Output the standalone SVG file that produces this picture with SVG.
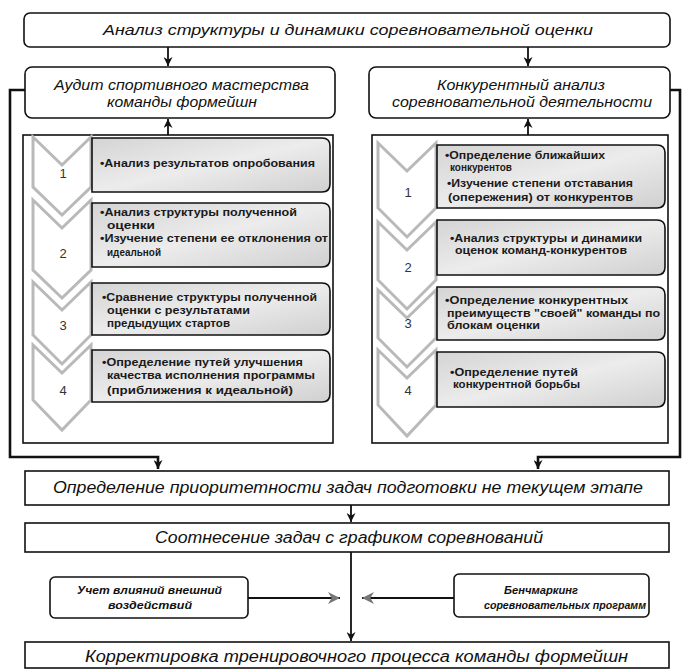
<svg xmlns="http://www.w3.org/2000/svg" width="682" height="669" viewBox="0 0 682 669">
<style>
.box{fill:#fff;stroke:#111;stroke-width:1.6}
.panel{fill:#fff;stroke:#111;stroke-width:1.6}
.step{fill:url(#sg);stroke:#111;stroke-width:1.6}
.chev{fill:#fff;stroke:#b9b9b9;stroke-width:3;stroke-linejoin:miter}
.t{font-family:"Liberation Sans",Arial,sans-serif;font-style:italic;fill:#111}
.s{font-family:"Liberation Sans",Arial,sans-serif;font-weight:bold;font-size:10px;fill:#1a1a1a}
.n{font-family:"Liberation Sans",Arial,sans-serif;font-size:13px;fill:#333;text-anchor:middle}
.si{font-family:"Liberation Sans",Arial,sans-serif;font-style:italic;font-weight:bold;font-size:10.5px;fill:#111}
.c{fill:none;stroke:#111;stroke-width:1.8}
.ct{fill:none;stroke:#111;stroke-width:2.6}
.cg{fill:none;stroke:#111;stroke-width:2}
</style>
<defs>
<linearGradient id="sg" x1="0" y1="0" x2="1" y2="1">
<stop offset="0" stop-color="#d4d4d4"/>
<stop offset="0.5" stop-color="#ececec"/>
<stop offset="1" stop-color="#d0d0d0"/>
</linearGradient>
<marker id="a" viewBox="0 0 10 10" refX="10" refY="5" markerWidth="9" markerHeight="9" markerUnits="userSpaceOnUse" orient="auto">
<path d="M0,0 L10,5 L0,10 L3,5 z" fill="#111"/>
</marker>
<marker id="ag" viewBox="0 0 10 10" refX="10" refY="5" markerWidth="12" markerHeight="12" markerUnits="userSpaceOnUse" orient="auto">
<path d="M0,0 L10,5 L0,10 L3,5 z" fill="#777"/>
</marker>
</defs>
<rect width="682" height="669" fill="#fff"/>

<g id="connectors">
<line class="c" x1="168" y1="47" x2="168" y2="66" marker-end="url(#a)"/>
<line class="c" x1="528" y1="47" x2="528" y2="66" marker-end="url(#a)"/>
<line class="c" x1="168" y1="135" x2="168" y2="119" marker-end="url(#a)"/>
<line class="c" x1="528" y1="135" x2="528" y2="119" marker-end="url(#a)"/>
<polyline class="ct" points="25,90 10,90 10,457 158,457 158,469" marker-end="url(#a)"/>
<polyline class="ct" points="670,90 680,90 680,457 538,457 538,469" marker-end="url(#a)"/>
<line class="c" x1="351" y1="505" x2="351" y2="522" marker-end="url(#a)"/>
<line class="c" x1="351" y1="552" x2="351" y2="641" marker-end="url(#a)"/>
<line class="cg" x1="248" y1="598" x2="340" y2="598" marker-end="url(#ag)"/>
<line class="cg" x1="454" y1="598" x2="362" y2="598" marker-end="url(#ag)"/>
</g>

<g id="n-top">
<rect class="box" x="24" y="13" width="646" height="34" rx="6"/>
<text class="t" x="103" y="35" font-size="15" textLength="490" lengthAdjust="spacingAndGlyphs">Анализ структуры и динамики соревновательной оценки</text>
</g>

<g id="n-audit">
<rect class="box" x="25" y="67" width="310" height="51" rx="7"/>
<text class="t" x="54" y="90" font-size="15" textLength="255" lengthAdjust="spacingAndGlyphs">Аудит спортивного мастерства</text>
<text class="t" x="107" y="107" font-size="15" textLength="150" lengthAdjust="spacingAndGlyphs">команды формейшн</text>
</g>

<g id="n-konk">
<rect class="box" x="369" y="67" width="301" height="51" rx="7"/>
<text class="t" x="437" y="90" font-size="15" textLength="168" lengthAdjust="spacingAndGlyphs">Конкурентный анализ</text>
<text class="t" x="392" y="107" font-size="15" textLength="260" lengthAdjust="spacingAndGlyphs">соревновательной деятельности</text>
</g>

<g id="panel-left">
<rect class="panel" x="23" y="135" width="310" height="308"/>
<polygon class="chev" points="33,345 62,373 91,345 91,400 62,430 33,400"/>
<polygon class="chev" points="33,282 62,310 91,282 91,335 62,364 33,335"/>
<polygon class="chev" points="33,200 62,228 91,200 91,270 62,298 33,270"/>
<polygon class="chev" points="33,137 62,165 91,137 91,187 62,215 33,187"/>
<text class="n" x="63" y="178">1</text>
<text class="n" x="63" y="258">2</text>
<text class="n" x="63" y="330">3</text>
<text class="n" x="63" y="395">4</text>
</g>

<g id="step-l1">
<path class="step" d="M92,138 H322 Q330,138 330,146 V184 Q330,192 322,192 H92 Z"/>
<text class="s" x="100" y="167" textLength="215" lengthAdjust="spacingAndGlyphs">•Анализ результатов опробования</text>
</g>
<g id="step-l2">
<path class="step" d="M92,203 H322 Q330,203 330,211 V259 Q330,267 322,267 H92 Z"/>
<text class="s" x="100" y="216" textLength="197" lengthAdjust="spacingAndGlyphs">•Анализ структуры полученной</text>
<text class="s" x="107" y="229" textLength="48" lengthAdjust="spacingAndGlyphs">оценки</text>
<text class="s" x="100" y="242" textLength="228" lengthAdjust="spacingAndGlyphs">•Изучение степени ее отклонения от</text>
<text class="s" x="107" y="256" textLength="54" lengthAdjust="spacingAndGlyphs">идеальной</text>
</g>
<g id="step-l3">
<path class="step" d="M92,283 H322 Q330,283 330,291 V327 Q330,335 322,335 H92 Z"/>
<text class="s" x="102" y="301" textLength="215" lengthAdjust="spacingAndGlyphs">•Сравнение структуры полученной</text>
<text class="s" x="107" y="314" textLength="143" lengthAdjust="spacingAndGlyphs">оценки с результатами</text>
<text class="s" x="107" y="327" textLength="123" lengthAdjust="spacingAndGlyphs">предыдущих стартов</text>
</g>
<g id="step-l4">
<path class="step" d="M92,350 H322 Q330,350 330,358 V394 Q330,402 322,402 H92 Z"/>
<text class="s" x="102" y="366" textLength="201" lengthAdjust="spacingAndGlyphs">•Определение путей улучшения</text>
<text class="s" x="107" y="379" textLength="208" lengthAdjust="spacingAndGlyphs">качества исполнения программы</text>
<text class="s" x="107" y="394" textLength="186" lengthAdjust="spacingAndGlyphs">(приближения к идеальной)</text>
</g>

<g id="panel-right">
<rect class="panel" x="372" y="135" width="296" height="308"/>
<polygon class="chev" points="378,350 407,378 436,350 436,405 407,436 378,405"/>
<polygon class="chev" points="378,290 407,318 436,290 436,338 407,367 378,338"/>
<polygon class="chev" points="378,222 407,250 436,222 436,280 407,309 378,280"/>
<polygon class="chev" points="378,143 407,171 436,143 436,208 407,237 378,208"/>
<text class="n" x="408" y="197">1</text>
<text class="n" x="408" y="272">2</text>
<text class="n" x="408" y="328">3</text>
<text class="n" x="408" y="395">4</text>
</g>

<g id="step-r1">
<path class="step" d="M437,145 H657 Q665,145 665,153 V200 Q665,208 657,208 H437 Z"/>
<text class="s" x="445" y="159" textLength="160" lengthAdjust="spacingAndGlyphs">•Определение ближайших</text>
<text class="s" x="450" y="171" textLength="62" lengthAdjust="spacingAndGlyphs">конкурентов</text>
<text class="s" x="447" y="187" fill="#555" textLength="186" lengthAdjust="spacingAndGlyphs">•Изучение степени отставания</text>
<text class="s" x="448" y="201" fill="#555" textLength="185" lengthAdjust="spacingAndGlyphs">(опережения) от конкурентов</text>
</g>
<g id="step-r2">
<path class="step" d="M437,220 H657 Q665,220 665,228 V267 Q665,275 657,275 H437 Z"/>
<text class="s" x="450" y="242" textLength="192" lengthAdjust="spacingAndGlyphs">•Анализ структуры и динамики</text>
<text class="s" x="455" y="254" textLength="172" lengthAdjust="spacingAndGlyphs">оценок команд-конкурентов</text>
</g>
<g id="step-r3">
<path class="step" d="M437,287 H657 Q665,287 665,295 V332 Q665,340 657,340 H437 Z"/>
<text class="s" x="445" y="304" textLength="183" lengthAdjust="spacingAndGlyphs">•Определение конкурентных</text>
<text class="s" x="447" y="317" textLength="213" lengthAdjust="spacingAndGlyphs">преимуществ "своей" команды по</text>
<text class="s" x="447" y="329" textLength="93" lengthAdjust="spacingAndGlyphs">блокам оценки</text>
</g>
<g id="step-r4">
<path class="step" d="M437,352 H657 Q665,352 665,360 V399 Q665,407 657,407 H437 Z"/>
<text class="s" x="450" y="376" textLength="128" lengthAdjust="spacingAndGlyphs">•Определение путей</text>
<text class="s" x="453" y="388" textLength="127" lengthAdjust="spacingAndGlyphs">конкурентной борьбы</text>
</g>

<g id="n-prior">
<rect class="box" x="25" y="471" width="644" height="34"/>
<text class="t" x="53" y="493" font-size="16" textLength="590" lengthAdjust="spacingAndGlyphs">Определение приоритетности задач подготовки не текущем этапе</text>
</g>

<g id="n-sootn">
<rect class="box" x="25" y="523" width="644" height="29"/>
<text class="t" x="155" y="543" font-size="16" textLength="388" lengthAdjust="spacingAndGlyphs">Соотнесение задач с графиком соревнований</text>
</g>

<g id="n-uchet">
<rect class="box" x="50" y="577" width="198" height="41" rx="5"/>
<text class="si" x="77" y="594" textLength="145" lengthAdjust="spacingAndGlyphs">Учет влияний внешний</text>
<text class="si" x="108" y="609" textLength="84" lengthAdjust="spacingAndGlyphs">воздействий</text>
</g>

<g id="n-bench">
<rect class="box" x="454" y="574" width="195" height="43" rx="5"/>
<text class="si" x="504" y="594" textLength="74" lengthAdjust="spacingAndGlyphs">Бенчмаркинг</text>
<text class="si" x="484" y="609" textLength="162" lengthAdjust="spacingAndGlyphs">соревновательных программ</text>
</g>

<g id="n-korr">
<rect class="box" x="25" y="642" width="644" height="26"/>
<text class="t" x="85" y="662" font-size="16" textLength="543" lengthAdjust="spacingAndGlyphs">Корректировка тренировочного процесса команды формейшн</text>
</g>
</svg>
